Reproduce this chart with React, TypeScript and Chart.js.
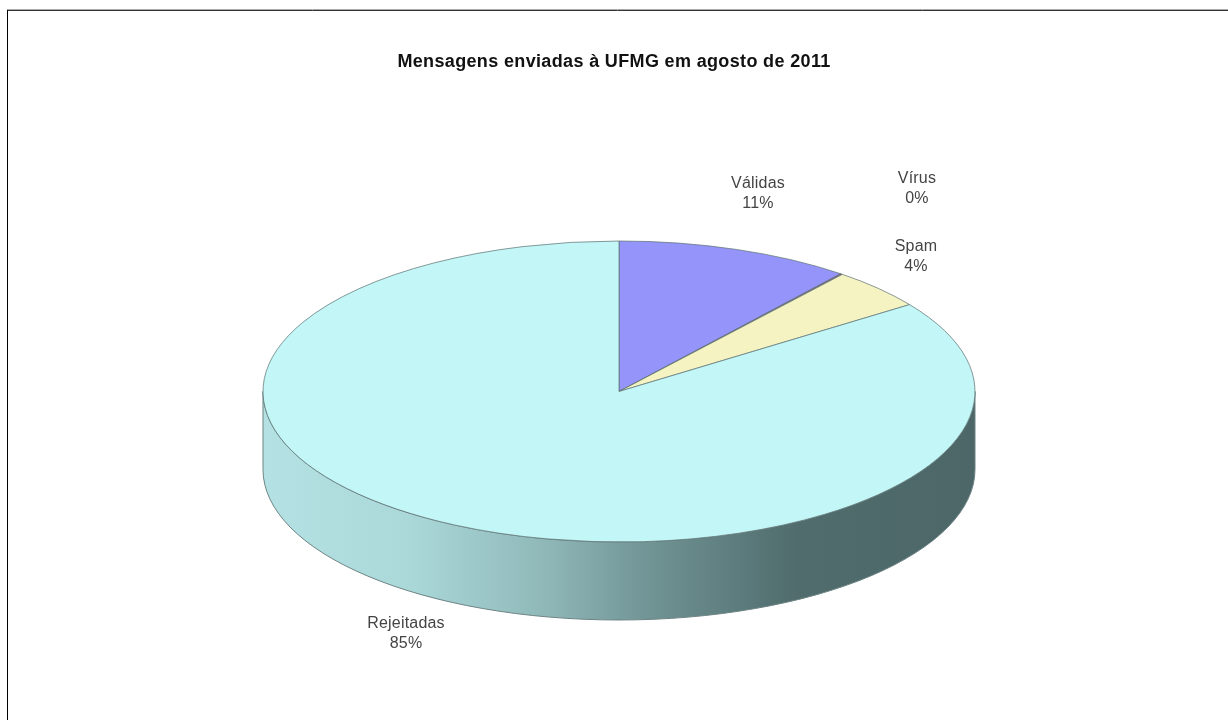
import React, { useEffect, useRef } from "react";
import { Chart, registerables } from "chart.js";

Chart.register(...registerables);

const title = "Mensagens enviadas à UFMG em agosto de 2011";
const categories = ["Válidas", "Vírus", "Spam", "Rejeitadas"];
const shares = [10.7, 0.1, 4.4, 84.8];
const sliceColors = ["#9494fb", "#8f5f86", "#f6f3c3", "#c3f6f6"];

// Layout of the tilted pie
const CX = 619;
const CY = 391.5;
const RX = 356;
const RY = 150.5;
const DEPTH = 78;
const labelAnchors = [
  [758, 184],
  [917, 179],
  [916, 247],
  [406, 624],
];

const tiltPlugin = {
  id: "tilt",
  beforeDraw(chart: any) {
    const { ctx } = chart;
    ctx.save();
    ctx.lineWidth = 1;
    ctx.strokeStyle = "#aaaaaa";
    ctx.beginPath();
    ctx.moveTo(7, 9.5);
    ctx.lineTo(1228, 9.5);
    ctx.stroke();
    ctx.strokeStyle = "#333333";
    ctx.beginPath();
    ctx.moveTo(7, 10.5);
    ctx.lineTo(1228, 10.5);
    ctx.stroke();
    ctx.strokeStyle = "#000000";
    ctx.beginPath();
    ctx.moveTo(7.5, 10);
    ctx.lineTo(7.5, 720);
    ctx.stroke();
    ctx.restore();
    ctx.letterSpacing = "0.35px";
  },
  beforeDatasetsDraw(chart: any) {
    const { ctx } = chart;
    ctx.letterSpacing = "0px";
    const arc = chart.getDatasetMeta(0).data[0];
    const g = ctx.createLinearGradient(CX - RX, 0, CX + RX, 0);
    g.addColorStop(0, "#b4e2e4");
    g.addColorStop(0.2, "#abd9da");
    g.addColorStop(0.4, "#8fb7b8");
    g.addColorStop(0.55, "#6f9293");
    g.addColorStop(0.75, "#506c6d");
    g.addColorStop(1, "#4d6768");
    ctx.save();
    ctx.beginPath();
    ctx.ellipse(CX, CY, RX, RY, 0, Math.PI, 0, true);
    ctx.ellipse(CX, CY + DEPTH, RX, RY, 0, 0, Math.PI, false);
    ctx.closePath();
    ctx.fillStyle = g;
    ctx.fill();
    ctx.strokeStyle = "#6d8384";
    ctx.lineWidth = 1;
    ctx.stroke();
    ctx.restore();
    ctx.save();
    ctx.translate(CX, CY);
    ctx.scale(1, RY / RX);
    ctx.translate(-arc.x, -arc.y);
  },
  afterDatasetsDraw(chart: any) {
    const { ctx } = chart;
    ctx.restore();
    ctx.save();
    ctx.font = '16px "Liberation Sans", Arial, sans-serif';
    ctx.letterSpacing = "0.2px";
    ctx.fillStyle = "#444444";
    ctx.textAlign = "center";
    ctx.textBaseline = "middle";
    categories.forEach((name, i) => {
      const [x, y] = labelAnchors[i];
      ctx.fillText(name, x, y);
      ctx.fillText(`${Math.round(shares[i])}%`, x, y + 20);
    });
    ctx.restore();
  },
};

export default function App() {
  const ref = useRef<HTMLCanvasElement>(null);
  useEffect(() => {
    const chart = new Chart(ref.current!, {
      type: "pie",
      data: {
        labels: categories,
        datasets: [
          {
            data: shares,
            backgroundColor: sliceColors,
            borderColor: "#5c7172",
            borderWidth: 1,
            radius: RX,
            clip: false,
          } as any,
        ],
      },
      options: {
        responsive: false,
        animation: false,
        events: [],
        plugins: {
          legend: { display: false },
          tooltip: { enabled: false },
          title: {
            display: true,
            text: title,
            color: "#111111",
            font: { family: '"Liberation Sans", Arial, sans-serif', size: 18, weight: "bold" },
            padding: { top: 51, bottom: 10 },
          },
        },
      },
      plugins: [tiltPlugin],
    } as any);
    return () => chart.destroy();
  }, []);
  return (
    <div style={{ position: "fixed", left: 0, top: 0, width: 1228, height: 720, background: "#fff" }}>
      <canvas ref={ref} width={1228} height={720} style={{ display: "block", width: 1228, height: 720 }} />
    </div>
  );
}
